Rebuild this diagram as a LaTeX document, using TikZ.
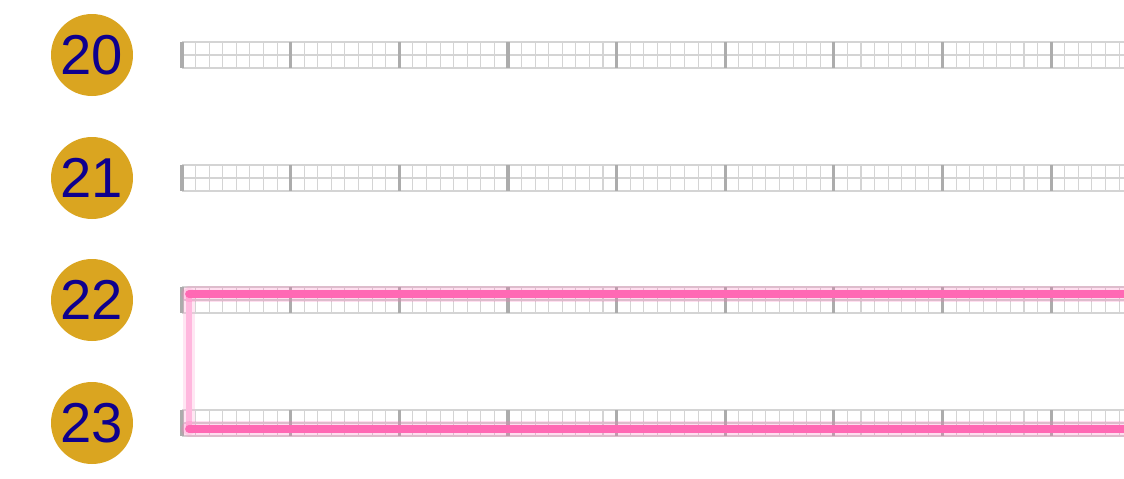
\documentclass[tikz,border=0pt]{standalone}
\usepackage{fontspec}
\setmainfont{Liberation Sans}
\usepackage{xcolor}
\usepackage{tikz}
\usetikzlibrary{positioning}
\definecolor{badgegold}{RGB}{218,165,32}
\definecolor{badgeblue}{RGB}{14,0,142}
\definecolor{tickgray}{RGB}{172,172,172}
\definecolor{cellgray}{RGB}{212,212,212}
\definecolor{linkpink}{RGB}{255,105,180}
\definecolor{linkpale}{RGB}{255,184,222}

\begin{document}
\begin{tikzpicture}[x=0.02cm, y=-0.02cm,
  badge/.style={circle, fill=badgegold, minimum size=1.64cm, inner sep=0pt,
    text=badgeblue, font=\fontsize{32}{32}\selectfont},
  cell/.style={draw=cellgray, line width=0.6pt},
  majtick/.style={draw=tickgray, line width=1.8pt},
  link/.style={draw=linkpink, line width=4.4pt, line cap=round},
  linkglow/.style={draw=linkpink, line width=9pt, line cap=round, opacity=0.22},
  linkdown/.style={draw=linkpale, line width=3.6pt, line cap=round},
  downglow/.style={draw=linkpale, line width=7pt, line cap=round, opacity=0.35}
]
\useasboundingbox (0,0) rectangle (1124,478);
\clip (0,0) rectangle (1124,478);
\foreach \n/\y in {20/55,21/178,22/300,23/423} {
  \node[badge] (b\n) at (92,\y) {\n};
  \draw[cell] (182,\y-13) -- (1140,\y-13);
  \draw[cell] (182,\y) -- (1140,\y);
  \draw[cell] (182,\y+13) -- (1140,\y+13);
  \foreach \k in {0,...,71} {
    \draw[cell] (182+\k*13.58,\y-13) -- ++(0,26);
  }
  \foreach \k in {0,...,8} {
    \draw[majtick] (182+\k*108.65,\y-13) -- ++(0,26);
  }
}
% pink links
\coordinate (s22) at (189,294);
\coordinate (e22) at (1140,294);
\coordinate (s23) at (189,429);
\coordinate (e23) at (1140,429);
\draw[downglow] (s22) -- (s23);
\draw[linkdown] (s22) -- (s23);
\draw[linkglow] (s22) -- (e22);
\draw[linkglow] (s23) -- (e23);
\draw[link] (s22) -- (e22);
\draw[link] (s23) -- (e23);
\end{tikzpicture}
\end{document}
